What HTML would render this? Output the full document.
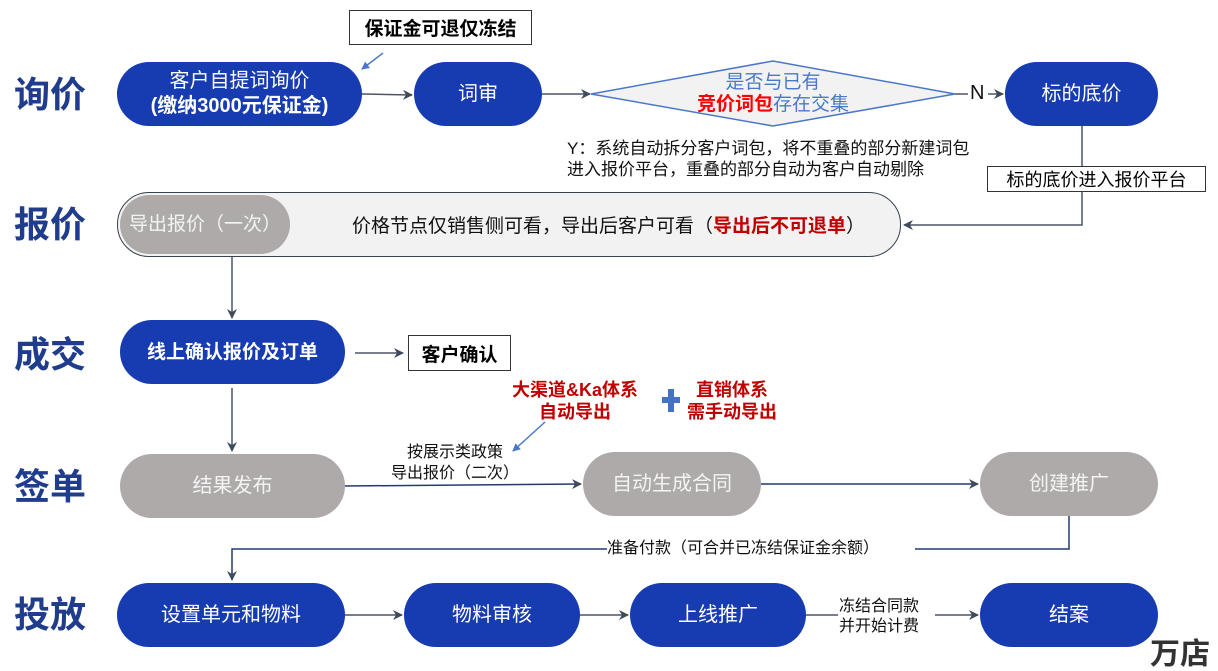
<!DOCTYPE html>
<html><head><meta charset="utf-8"><style>
body{margin:0;width:1218px;height:649px;background:#fff;position:relative;overflow:hidden;font-family:"Liberation Sans","Noto Sans CJK SC",sans-serif}
.a{position:absolute}
.lab{position:absolute;left:14px;font-size:36px;font-weight:bold;color:#203c8c;line-height:40px}
.n{position:absolute;border-radius:32px;background:#173bb0;color:#fff;display:flex;align-items:center;justify-content:center;text-align:center;font-size:20px;line-height:25px}
.g{background:#aeaaaa;color:#f4f4f4}
.box{position:absolute;border:1.5px solid #333;background:#fff;display:flex;align-items:center;justify-content:center;font-weight:bold;font-size:19px}
.t{position:absolute;font-size:16px;line-height:20px;color:#111}
.red{color:#c00000;font-weight:bold}
</style></head><body>
<svg class="a" style="left:0;top:0" width="1218" height="649">
<defs><marker id="m" markerWidth="10" markerHeight="10" refX="9" refY="5" orient="auto" markerUnits="userSpaceOnUse"><path d="M0,0 L10,5 L0,10 L3,5 Z" fill="#3f4a5c"/></marker></defs>
<g stroke="#4a5568" stroke-width="1.5" fill="none">
<path d="M362,94 L412,95" marker-end="url(#m)"/>
<path d="M542,94 L590,94" marker-end="url(#m)"/>
<path d="M988,94 L1003,94" marker-end="url(#m)"/>
<path d="M1082,126 L1082,225 L904,225" marker-end="url(#m)"/>
<path d="M232,254 L232,318" marker-end="url(#m)"/>
<path d="M355,353 L403,353" marker-end="url(#m)"/>
<path d="M232,388 L232,451" marker-end="url(#m)"/>
<path d="M345,486 L581,484" stroke="#243a6e" marker-end="url(#m)"/>
<path d="M761,484 L978,484" stroke="#243a6e" marker-end="url(#m)"/>
<path d="M1069,516 L1069,549 L915,549" stroke="#243a6e"/>
<path d="M607,549 L232,549 L232,580" stroke="#243a6e" marker-end="url(#m)"/>
<path d="M345,615 L402,615" marker-end="url(#m)"/>
<path d="M580,615 L628,615" marker-end="url(#m)"/>
<path d="M806,615 L838,615"/>
<path d="M935,615 L978,615" marker-end="url(#m)"/>
<path d="M955,94 L968,94"/>
</g>
<path d="M591,94 L773,61 L955,94 L773,126 Z" fill="#f2f2f2" stroke="#4a78c8" stroke-width="1.5"/>
<path d="M662,400 L680,400 M671,389 L671,412" stroke="#4472c4" stroke-width="6"/>
</svg>
<div class="lab" style="top:75px">询价</div>
<div class="lab" style="top:205px">报价</div>
<div class="lab" style="top:335px">成交</div>
<div class="lab" style="top:467px">签单</div>
<div class="lab" style="top:595px">投放</div>

<div class="box" style="left:349px;top:10px;width:181px;height:33px">保证金可退仅冻结</div>
<div class="n" style="left:117px;top:62px;width:245px;height:64px"><div>客户自提词询价<br><b>(缴纳3000元保证金)</b></div></div>
<div class="n" style="left:414px;top:62px;width:128px;height:64px">词审</div>
<div class="a" style="left:673px;top:72px;width:200px;text-align:center;font-size:19px;line-height:22px;color:#4a78c8">是否与已有<br><span style="color:#f00;font-weight:bold">竞价词包</span>存在交集</div>
<div class="a" style="left:970px;top:82px;font-size:20px;color:#111">N</div>
<div class="n" style="left:1005px;top:62px;width:153px;height:64px">标的底价</div>
<div class="t" style="left:567px;top:138px;font-size:17px;line-height:21px">Y：系统自动拆分客户词包，将不重叠的部分新建词包<br>进入报价平台，重叠的部分自动为客户自动剔除</div>
<div class="box" style="left:987px;top:166px;width:217px;height:24px;font-weight:normal;font-size:18px">标的底价进入报价平台</div>

<div class="a" style="left:117px;top:192px;width:782px;height:63px;border:1.5px solid #3a4150;border-radius:32px;background:#f2f2f2"></div>
<div class="n g" style="left:120px;top:195px;width:170px;height:59px;font-size:19px">导出报价（一次）</div>
<div class="a" style="left:352px;top:211px;font-size:19px;color:#111">价格节点仅销售侧可看，导出后客户可看（<span class="red">导出后不可退单</span>）</div>

<div class="n" style="left:120px;top:320px;width:225px;height:64px;font-weight:bold;font-size:19px">线上确认报价及订单</div>
<div class="box" style="left:408px;top:335px;width:101px;height:34px;font-size:19px">客户确认</div>
<div class="a red" style="left:505px;top:379px;width:140px;text-align:center;font-size:18px;line-height:22px">大渠道&amp;Ka体系<br>自动导出</div>
<div class="a red" style="left:672px;top:379px;width:120px;text-align:center;font-size:18px;line-height:22px">直销体系<br>需手动导出</div>

<div class="n g" style="left:120px;top:454px;width:225px;height:64px">结果发布</div>
<div class="t" style="left:375px;top:442px;width:160px;text-align:center;line-height:21px">按展示类政策<br>导出报价（二次）</div>
<div class="n g" style="left:583px;top:452px;width:178px;height:64px">自动生成合同</div>
<div class="n g" style="left:980px;top:452px;width:178px;height:64px">创建推广</div>
<div class="t" style="left:607px;top:539px">准备付款（可合并已冻结保证金余额）</div>

<div class="n" style="left:117px;top:583px;width:228px;height:64px">设置单元和物料</div>
<div class="n" style="left:404px;top:583px;width:176px;height:64px">物料审核</div>
<div class="n" style="left:630px;top:583px;width:176px;height:64px">上线推广</div>
<div class="t" style="left:839px;top:597px;line-height:20px">冻结合同款<br>并开始计费</div>
<div class="n" style="left:980px;top:583px;width:178px;height:64px">结案</div>
<div class="a" style="left:1150px;top:640px;font-size:30px;font-weight:bold;color:#333;line-height:30px">万店</div>
<svg class="a" style="left:0;top:0" width="1218" height="649">
<defs><marker id="mb" markerWidth="8" markerHeight="8" refX="7" refY="4" orient="auto" markerUnits="userSpaceOnUse"><path d="M0,0 L8,4 L0,8 Z" fill="#4a78c8"/></marker></defs>
<path d="M383,53 L362,69" stroke="#4a78c8" stroke-width="1.5" fill="none" marker-end="url(#mb)"/>
<path d="M545,422 L513,451" stroke="#4a78c8" stroke-width="1.5" fill="none" marker-end="url(#mb)"/>
</svg>
</body></html>
